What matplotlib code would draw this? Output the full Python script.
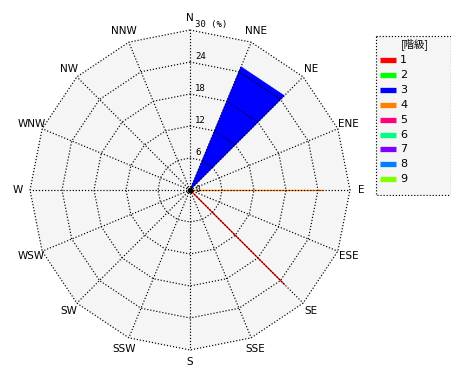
import numpy as np
import matplotlib
matplotlib.use("Agg")
import matplotlib.pyplot as plt
from matplotlib.patches import Polygon, Rectangle

# ---- data ----
directions = ['N', 'NNE', 'NE', 'ENE', 'E', 'ESE', 'SE', 'SSE',
              'S', 'SSW', 'SW', 'WSW', 'W', 'WNW', 'NW', 'NNW']
ring_values = [6, 12, 18, 24, 30]
ring_labels = ['6', '12', '18', '24', '30 (%)']
classes = ['1', '2', '3', '4', '5', '6', '7', '8', '9']
class_colors = ['#ff0000', '#00ff00', '#0000ff', '#ff8000', '#ff0080',
                '#00ff80', '#8000ff', '#0080ff', '#80ff00']
# sectors: class, start direction, end direction, value (%)
sector_class = ['3', '1', '4']
sector_start = ['NNE', 'SE', 'E']
sector_end = ['NE', 'SE', 'E']
sector_value = [25, 25, 25]

RMAX = 30
W, H = 470, 380
cx, cy, rpx = 190, 190, 160
scale = rpx / RMAX

fig = plt.figure(figsize=(W / 100, H / 100), dpi=100)
ax = fig.add_axes([0, 0, 1, 1])
ax.set_xlim(-cx / scale, (W - cx) / scale)
ax.set_ylim(-(H - cy) / scale, cy / scale)
ax.axis('off')

def xy(direction, r):
    i = directions.index(direction)
    ang = np.deg2rad(90 - i * 22.5)
    return r * np.cos(ang), r * np.sin(ang)

# background polygon
outer = [xy(d, RMAX) for d in directions]
ax.add_patch(Polygon(outer, closed=True, facecolor='#f5f5f5', edgecolor='none', zorder=0))

# sectors
for c, s, e, v in zip(sector_class, sector_start, sector_end, sector_value):
    col = class_colors[classes.index(c)]
    if s == e:
        x, y = xy(s, v)
        ax.plot([0, x], [0, y], color=col, lw=0.9, zorder=2)
    else:
        ax.add_patch(Polygon([(0, 0), xy(s, v), xy(e, v)], closed=True,
                             facecolor=col, edgecolor=col, lw=0.5, zorder=2))

# grid
gkw = dict(color='black', lw=0.85, linestyle=(0, (1, 1.6)), zorder=3)
for r in ring_values:
    pts = [xy(d, r) for d in directions] + [xy(directions[0], r)]
    ax.plot([p[0] for p in pts], [p[1] for p in pts], **gkw)
for d in directions:
    x, y = xy(d, RMAX)
    ax.plot([0, x], [0, y], **gkw)
ax.plot([0], [0], 'o', color='black', ms=3, zorder=4)

# labels
for d in directions:
    x, y = xy(d, 32.2)
    ax.text(x, y, d, ha='center', va='center', fontsize=7.5,
            family='DejaVu Sans', zorder=5)
for r, lab in zip(ring_values, ring_labels):
    ax.text(1.0, r + 0.15, lab, ha='left', va='bottom', fontsize=6.5,
            family='DejaVu Sans Mono', zorder=5)
ax.text(1.0, 0.1, '0', ha='left', va='center', fontsize=5.5,
        family='DejaVu Sans Mono', zorder=5)

# legend
lx0, ly0, lw_, lh = 375, 35, 76, 161
lax = fig.add_axes([lx0 / W, (H - ly0 - lh) / H, lw_ / W, lh / H])
lax.set_xlim(0, lw_)
lax.set_ylim(lh, 0)
lax.axis('off')
lax.add_patch(Rectangle((0.5, 0.5), lw_ - 1, lh - 1, facecolor='#f5f5f5',
                        edgecolor='black', lw=0.85, linestyle=(0, (1, 1.6))))
lax.text(lw_ / 2 + 2, 9, '[階級]', ha='center', va='center', fontsize=7.5,
         family=['Noto Sans CJK JP', 'DejaVu Sans'])
for i, (c, col) in enumerate(zip(classes, class_colors)):
    yy = 25 + i * 14.9
    lax.plot([5, 21], [yy, yy], color=col, lw=3.8, solid_capstyle='butt')
    lax.text(25, yy, c, ha='left', va='center', fontsize=8, family='DejaVu Sans')

fig.savefig('out.png', dpi=100)
